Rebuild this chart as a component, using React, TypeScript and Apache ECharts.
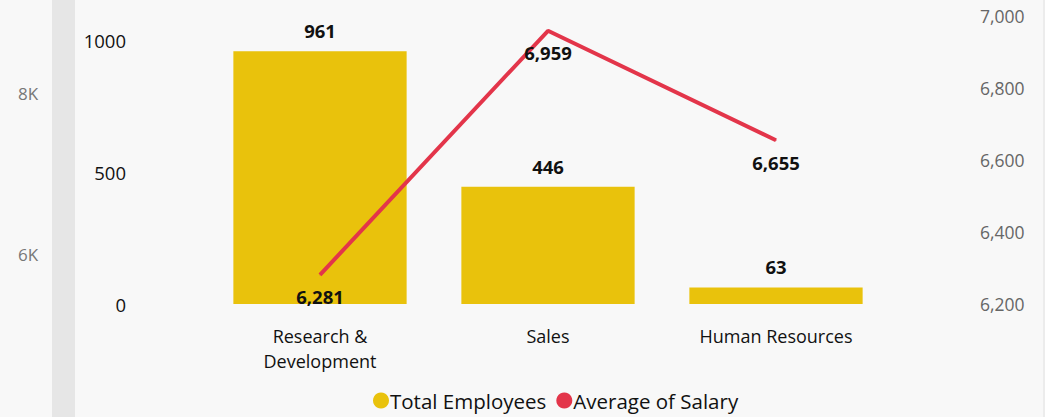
import React, { useEffect, useRef } from "react";
import * as echarts from "echarts";

const categories = ["Research &\nDevelopment", "Sales", "Human Resources"];
const totalEmployees = [961, 446, 63];
const avgSalary = [6281, 6959, 6655];
const leftTicks = [0, 500, 1000];
const ghostLabels = ["8K", "6K"];

const FONT = "'Open Sans', 'Noto Sans', sans-serif";

export default function App() {
  const ref = useRef<HTMLDivElement>(null);
  useEffect(() => {
    if (!ref.current) return;
    const chart = echarts.init(ref.current, undefined, { renderer: "svg" });
    chart.setOption({
      animation: false,
      backgroundColor: "#f8f8f8",
      textStyle: { fontFamily: FONT },
      graphic: [
        { type: "rect", left: 52, top: 0, shape: { width: 23, height: 417 }, style: { fill: "#e6e6e6" }, z: 0 },
        { type: "rect", left: 1043, top: 0, shape: { width: 2, height: 417 }, style: { fill: "#ececec" }, z: 0 },
        { type: "text", left: 18, top: 85, style: { text: ghostLabels[0], fill: "#777", font: `17px ${FONT}` } },
        { type: "text", left: 18, top: 246, style: { text: ghostLabels[1], fill: "#777", font: `17px ${FONT}` } },
      ],
      legend: {
        bottom: 1,
        left: 368,
        icon: "circle",
        itemWidth: 16,
        itemHeight: 16,
        itemGap: 10,
        textStyle: { fontSize: 20.5, color: "#111", fontFamily: FONT, padding: [0, 0, 0, -4] },
        data: ["Total Employees", "Average of Salary"],
      },
      grid: { left: 206, right: 155, top: 16, bottom: 113 },
      xAxis: {
        type: "category",
        data: categories,
        axisLine: { show: false },
        axisTick: { show: false },
        axisLabel: { color: "#111", fontSize: 18, lineHeight: 25, margin: 19, interval: 0 },
      },
      yAxis: [
        {
          type: "value",
          min: 0,
          max: 1095,
          interval: 500,
          splitLine: { show: false },
          axisLabel: {
            color: "#111",
            fontSize: 18.5,
            margin: 80,
            formatter: (v: number) => (leftTicks.includes(v) ? String(v) : ""),
          },
        },
        {
          type: "value",
          min: 6200,
          max: 7000,
          interval: 200,
          splitLine: { show: false },
          axisLabel: {
            color: "#666",
            fontSize: 17.5,
            margin: 90,
            formatter: (v: number) => v.toLocaleString("en-US"),
          },
        },
      ],
      series: [
        {
          name: "Total Employees",
          type: "bar",
          data: totalEmployees,
          barCategoryGap: "24%",
          itemStyle: { color: "#e9c20c" },
          label: { show: true, position: "top", distance: 11, fontSize: 18.5, fontWeight: "bold", color: "#111" },
        },
        {
          name: "Average of Salary",
          type: "line",
          yAxisIndex: 1,
          data: avgSalary,
          symbol: "circle",
          symbolSize: 1,
          itemStyle: { color: "#e3354a" },
          lineStyle: { color: "#e3354a", width: 4 },
          label: {
            show: true,
            position: "bottom",
            distance: 12,
            fontSize: 18.5,
            fontWeight: "bold",
            color: "#111",
            formatter: (p: any) => Number(p.value).toLocaleString("en-US"),
          },
        },
      ],
    });
    return () => chart.dispose();
  }, []);
  return <div ref={ref} style={{ position: "fixed", left: 0, top: 0, width: 1045, height: 417 }} />;
}
